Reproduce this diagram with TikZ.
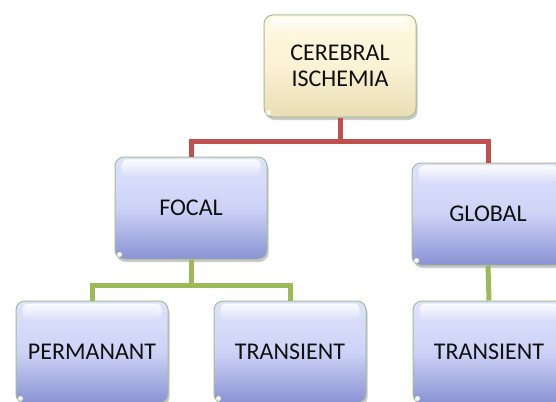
\documentclass[tikz,border=0pt]{standalone}
\usepackage{fontspec}
\setmainfont{Carlito}
\usetikzlibrary{shadows,fadings}
\definecolor{redline}{RGB}{192,80,77}
\definecolor{greenline}{RGB}{155,187,89}
\definecolor{txt}{RGB}{15,15,15}
\definecolor{boxedge}{RGB}{165,188,150}
\tikzset{
  lbl/.style={text=txt, font=\fontsize{24}{26}\selectfont, align=center},
  base/.style={rounded corners=9pt, minimum width=152pt, minimum height=102pt,
    draw=boxedge, line width=1pt, align=center, lbl,
    drop shadow={shadow xshift=1.5pt, shadow yshift=-3pt, opacity=0.35, fill=black!60}},
  bluebox/.style={base, top color={rgb,255:red,222;green,227;blue,252},
    bottom color={rgb,255:red,138;green,146;blue,212}, middle color={rgb,255:red,205;green,211;blue,246}},
  creambox/.style={base, top color={rgb,255:red,255;green,249;blue,225},
    bottom color={rgb,255:red,233;green,221;blue,180}, middle color={rgb,255:red,251;green,242;blue,212}},
  conn/.style={line width=5pt},
  gloss/.style={fill=white, opacity=0.9, path fading=south, rounded corners=6pt}
}
\newcommand{\glossy}[1]{%
  \fill[gloss] ([xshift=7pt,yshift=-3pt]#1.north west) rectangle ([xshift=-7pt,yshift=-20pt]#1.north east);
  \fill[white,opacity=0.9] ([xshift=5pt,yshift=5pt]#1.south west) circle (2.5pt);
}
\begin{document}
\begin{tikzpicture}[x=1pt,y=-1pt]
\useasboundingbox (0,0) rectangle (556,401);
\clip (0,0) rectangle (556,401);
\coordinate (r1) at (340,141);
\coordinate (g1) at (191,285);
\node[creambox] (cer) at (340,66) {};
\node[bluebox] (foc) at (191,208) {};
\node[bluebox] (glo) at (488,214) {};
\node[bluebox] (per) at (92,352) {};
\node[bluebox] (tr1) at (290,352) {};
\node[bluebox] (tr2) at (489,352) {};
\glossy{cer}\glossy{foc}\glossy{glo}\glossy{per}\glossy{tr1}\glossy{tr2}
\node[lbl] (cert) at (cer) {CEREBRAL\\ISCHEMIA};
\node[lbl] (foct) at (foc) {FOCAL};
\node[lbl] (glot) at (glo) {GLOBAL};
\node[lbl] (pert) at (per) {PERMANANT};
\node[lbl] (tr1t) at (tr1) {TRANSIENT};
\node[lbl] (tr2t) at (tr2) {TRANSIENT};
\draw[conn, redline] (cer.south) -- (r1);
\draw[conn, redline] (r1) -| (foc.north);
\draw[conn, redline] (r1) -| (glo.north);
\draw[conn, greenline] (foc.south) -- (g1);
\draw[conn, greenline] (g1) -| (per.north);
\draw[conn, greenline] (g1) -| (tr1.north);
\draw[conn, greenline] (glo.south) -- (tr2.north);
\end{tikzpicture}
\end{document}
